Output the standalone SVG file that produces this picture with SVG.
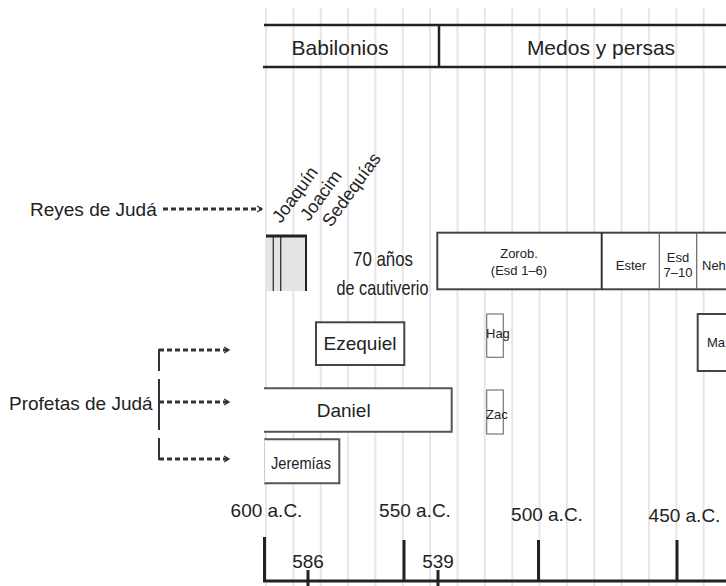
<svg xmlns="http://www.w3.org/2000/svg" width="726" height="586" viewBox="0 0 726 586">
<style>
text{font-family:"Liberation Sans",Arial,sans-serif;fill:#222}
.grid line{stroke:#e6e6e6;stroke-width:2}
.hdr{stroke:#222;stroke-width:2.5;fill:none}
.box{fill:#fff;stroke:#444;stroke-width:2}
.thin{fill:#fff;stroke:#777;stroke-width:1.2}
.dash{stroke:#333;stroke-width:2.8;stroke-dasharray:5 3;fill:none}
.ax{stroke:#222;stroke-width:3;fill:none}
.t19{font-size:19px}
.t13{font-size:13px}
</style>
<defs>
<marker id="arr" markerWidth="8" markerHeight="8" refX="6" refY="4" orient="auto" markerUnits="userSpaceOnUse">
<path d="M1,1 L6,4 L1,7" fill="none" stroke="#333" stroke-width="1.3"/>
</marker>
</defs>
<rect width="726" height="586" fill="#fff"/>
<g class="grid">
<line x1="266" y1="8" x2="266" y2="586"/>
<line x1="293.4" y1="8" x2="293.4" y2="586"/>
<line x1="320.7" y1="8" x2="320.7" y2="586"/>
<line x1="348.1" y1="8" x2="348.1" y2="586"/>
<line x1="375.4" y1="8" x2="375.4" y2="586"/>
<line x1="402.8" y1="8" x2="402.8" y2="586"/>
<line x1="430.1" y1="8" x2="430.1" y2="586"/>
<line x1="457.5" y1="8" x2="457.5" y2="586"/>
<line x1="484.8" y1="8" x2="484.8" y2="586"/>
<line x1="512.2" y1="8" x2="512.2" y2="586"/>
<line x1="539.5" y1="8" x2="539.5" y2="586"/>
<line x1="566.9" y1="8" x2="566.9" y2="586"/>
<line x1="594.2" y1="8" x2="594.2" y2="586"/>
<line x1="621.6" y1="8" x2="621.6" y2="586"/>
<line x1="648.9" y1="8" x2="648.9" y2="586"/>
<line x1="676.3" y1="8" x2="676.3" y2="586"/>
<line x1="703.6" y1="8" x2="703.6" y2="586"/>
</g>
<g id="header">
<line class="hdr" x1="264" y1="25" x2="726" y2="25"/>
<line class="hdr" x1="263" y1="67" x2="726" y2="67"/>
<line class="hdr" x1="439" y1="25" x2="439" y2="67" stroke-width="2"/>
<text x="340" y="55" font-size="21" text-anchor="middle">Babilonios</text>
<text x="601" y="55" font-size="21" text-anchor="middle">Medos y persas</text>
</g>
<g id="reyes-label"><text class="t19" x="30" y="216">Reyes de Judá</text></g>
<g id="profetas-label"><text class="t19" x="9" y="410">Profetas de Judá</text></g>
<g id="kings-names">
<text font-size="18" transform="translate(281,224) rotate(-54)">Joaquín</text>
<text font-size="18" transform="translate(309,222) rotate(-54)">Joacim</text>
<text font-size="18" transform="translate(331,228) rotate(-54)">Sedequías</text>
</g>
<g id="kings-box">
<rect x="266" y="236" width="40" height="55" fill="#e4e4e4"/>
<line x1="273.3" y1="236" x2="273.3" y2="291" stroke="#333" stroke-width="1.3"/>
<line x1="280.7" y1="236" x2="280.7" y2="291" stroke="#333" stroke-width="1.3"/>
<line x1="306" y1="236" x2="306" y2="291" stroke="#222" stroke-width="2"/>
<line x1="266" y1="236" x2="307" y2="236" stroke="#222" stroke-width="3"/>
</g>
<g id="cautiverio">
<text x="383" y="266" font-size="21" text-anchor="middle" textLength="60" lengthAdjust="spacingAndGlyphs">70 años</text>
<text x="382.5" y="295" font-size="21" text-anchor="middle" textLength="92" lengthAdjust="spacingAndGlyphs">de cautiverio</text>
</g>
<g id="periods">
<rect class="box" x="437.3" y="232.7" width="300" height="56.6" stroke="#333"/>
<line x1="601.7" y1="232.7" x2="601.7" y2="289.3" stroke="#333" stroke-width="2"/>
<line x1="659.3" y1="232.7" x2="659.3" y2="289.3" stroke="#666" stroke-width="1.2"/>
<line x1="696.7" y1="232.7" x2="696.7" y2="289.3" stroke="#666" stroke-width="1.2"/>
<text class="t13" x="519" y="258" text-anchor="middle">Zorob.</text>
<text class="t13" x="519" y="275" text-anchor="middle">(Esd 1–6)</text>
<text class="t13" x="631" y="270" text-anchor="middle">Ester</text>
<text class="t13" x="678" y="262" text-anchor="middle">Esd</text>
<text class="t13" x="678" y="277" text-anchor="middle">7–10</text>
<text class="t13" x="702" y="270">Neh</text>
</g>
<g id="ezequiel">
<rect class="box" x="316" y="322.3" width="88.3" height="42.7"/>
<text class="t19" x="360" y="350" text-anchor="middle">Ezequiel</text>
</g>
<g id="daniel">
<rect x="264" y="388.3" width="187.7" height="43.4" fill="#fff"/>
<path d="M264,388.3 H451.7 V431.7 H264" fill="none" stroke="#555" stroke-width="2"/>
<text class="t19" x="343.7" y="417" text-anchor="middle">Daniel</text>
</g>
<g id="jeremias">
<rect x="264" y="439.3" width="75.3" height="44" fill="#fff"/>
<path d="M264,439.3 H339.3 V483.3 H264" fill="none" stroke="#555" stroke-width="2"/>
<line x1="264.5" y1="439.3" x2="264.5" y2="483.3" stroke="#ccc" stroke-width="1"/>
<text x="301" y="469" font-size="17" text-anchor="middle" textLength="60" lengthAdjust="spacingAndGlyphs">Jeremías</text>
</g>
<g id="hag">
<rect class="thin" x="486.7" y="314" width="16.6" height="43.3"/>
<text class="t13" x="486" y="338">Hag</text>
</g>
<g id="zac">
<rect class="thin" x="486.7" y="390" width="16.6" height="44"/>
<text class="t13" x="486" y="419">Zac</text>
</g>
<g id="mal">
<rect class="box" x="697.7" y="314" width="40" height="57" stroke="#555" stroke-width="1.5"/>
<text class="t13" x="707" y="347" font-size="14">Ma</text>
</g>
<g id="connectors">
<line class="dash" x1="163" y1="209" x2="262" y2="209" marker-end="url(#arr)"/>
<path d="M159,349 V371 M159,379 V430 M159,438 V460" stroke="#333" stroke-width="2" fill="none"/>
<line class="dash" x1="159" y1="350" x2="229" y2="350" marker-end="url(#arr)"/>
<line class="dash" x1="159" y1="402" x2="229" y2="402" marker-end="url(#arr)"/>
<line class="dash" x1="159" y1="459" x2="229" y2="459" marker-end="url(#arr)"/>
</g>
<g id="axis">
<text class="t19" x="266.5" y="517" text-anchor="middle">600 a.C.</text>
<text class="t19" x="415" y="517" text-anchor="middle">550 a.C.</text>
<text class="t19" x="547" y="521" text-anchor="middle">500 a.C.</text>
<text class="t19" x="684.5" y="522" text-anchor="middle">450 a.C.</text>
<line class="ax" x1="263" y1="581" x2="726" y2="581"/>
<line class="ax" x1="264.5" y1="537" x2="264.5" y2="581"/>
<line class="ax" x1="404" y1="540" x2="404" y2="581"/>
<line class="ax" x1="538.5" y1="540" x2="538.5" y2="581"/>
<line class="ax" x1="677" y1="540" x2="677" y2="581"/>
<line class="ax" x1="308" y1="570" x2="308" y2="586"/>
<line class="ax" x1="438" y1="570" x2="438" y2="586"/>
<text class="t19" x="308" y="568" text-anchor="middle">586</text>
<text class="t19" x="438" y="568" text-anchor="middle">539</text>
</g>
</svg>
